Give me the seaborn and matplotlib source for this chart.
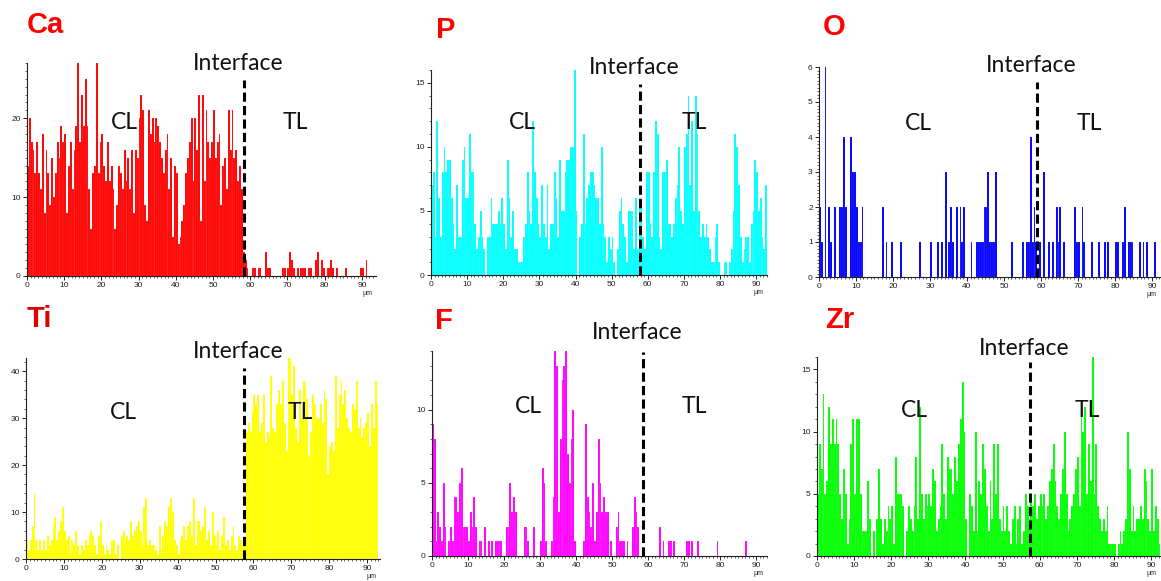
import numpy as np
import pandas as pd
import matplotlib
matplotlib.use("Agg")
import matplotlib.pyplot as plt
import matplotlib.transforms as mtransforms
from matplotlib.ticker import MultipleLocator
import seaborn as sns

# ---------------- data (counts per 0.5 µm step) ----------------
STEP_UM = 0.5

ca_counts = [
    14, 20, 17, 16, 13, 17, 13, 11, 18, 8,
    16, 13, 9, 15, 10, 13, 17, 15, 19, 17,
    18, 8, 14, 17, 11, 16, 19, 27, 17, 23,
    19, 25, 19, 11, 6, 13, 14, 27, 13, 17,
    18, 14, 12, 17, 12, 14, 11, 6, 9, 14,
    13, 11, 16, 12, 15, 11, 16, 8, 16, 15,
    20, 23, 21, 9, 7, 21, 18, 20, 17, 20,
    19, 17, 15, 13, 16, 18, 11, 15, 5, 14,
    13, 4, 5, 7, 9, 13, 15, 17, 20, 12,
    20, 16, 23, 7, 23, 12, 21, 17, 15, 17,
    21, 15, 17, 18, 9, 14, 15, 11, 21, 16,
    21, 15, 16, 12, 14, 11, 3, 2, 1, 0,
    0, 1, 1, 0, 1, 1, 0, 0, 3, 1,
    1, 0, 0, 0, 0, 0, 0, 1, 1, 0,
    1, 3, 2, 1, 0, 1, 0, 1, 1, 1,
    0, 1, 1, 0, 0, 2, 3, 0, 2, 1,
    0, 1, 1, 2, 1, 0, 1, 0, 0, 0,
    0, 1, 0, 0, 0, 0, 0, 0, 0, 1,
    1, 0, 2, 0, 0, 0,
]

p_counts = [
    7, 8, 3, 12, 6, 3, 8, 10, 8, 9,
    9, 6, 4, 2, 7, 3, 3, 9, 10, 6,
    6, 11, 8, 8, 4, 2, 3, 5, 3, 2,
    0, 3, 3, 6, 4, 4, 4, 5, 4, 6,
    4, 2, 9, 6, 3, 5, 2, 2, 1, 1,
    1, 3, 4, 8, 5, 4, 12, 8, 6, 4,
    3, 7, 4, 3, 7, 2, 4, 4, 8, 6,
    3, 9, 5, 5, 8, 9, 9, 10, 10, 16,
    5, 0, 3, 4, 11, 4, 6, 7, 8, 8,
    7, 6, 6, 4, 10, 4, 3, 1, 3, 2,
    3, 1, 0, 2, 5, 6, 4, 3, 1, 5,
    5, 5, 2, 6, 2, 6, 6, 3, 2, 8,
    8, 4, 3, 8, 12, 11, 3, 2, 8, 8,
    9, 4, 4, 3, 4, 6, 7, 10, 5, 4,
    10, 11, 14, 7, 12, 5, 14, 11, 5, 3,
    4, 3, 4, 3, 2, 1, 1, 3, 4, 1,
    0, 0, 1, 1, 0, 1, 2, 5, 11, 10,
    7, 3, 1, 2, 3, 3, 1, 4, 5, 9,
    8, 5, 6, 3, 2, 7,
]

# O is sparse: positions (µm) and counts of the non-zero steps
o_um = [0, 0.5, 1.5, 2.5, 3, 4, 5.5, 6, 6.5, 7, 8.5, 9, 9.5, 10, 10.5, 11, 11.5,
        17, 18, 19.5, 22, 27, 30, 32, 33, 34, 35, 35.5, 36, 37, 38, 38.5, 39,
        41, 42.5, 43, 43.5, 44, 44.5, 45, 45.5, 46, 46.5, 47, 47.5, 52, 55, 56,
        56.5, 57, 57.5, 58, 58.5, 59.5, 60.5, 62, 63, 64, 64.5, 65, 66, 69, 69.5,
        70, 71, 71.5, 73.5, 75.5, 77, 78, 80, 80.5, 82, 82.5, 83.5, 84, 84.5,
        86.5, 87.5, 88.5, 90.5]
o_counts = [2, 1, 6, 2, 1, 2, 2, 2, 4, 2, 4, 3, 3, 2, 1, 1, 2,
            2, 1, 1, 1, 1, 1, 1, 1, 3, 1, 2, 1, 2, 2, 1, 2,
            1, 1, 1, 1, 1, 2, 2, 3, 1, 1, 1, 3, 1, 1, 1,
            1, 4, 1, 2, 1, 1, 3, 1, 1, 2, 1, 2, 1, 2, 1,
            1, 2, 1, 1, 1, 1, 1, 1, 1, 1, 2, 1, 1, 1,
            1, 1, 1, 1]

ti_counts = [
    4, 2, 4, 7, 14, 4, 2, 4, 2, 4,
    2, 5, 3, 4, 7, 9, 4, 6, 8, 11,
    6, 4, 5, 1, 4, 3, 6, 3, 1, 3,
    2, 4, 3, 5, 6, 5, 3, 1, 5, 8,
    3, 1, 3, 2, 1, 4, 4, 1, 3, 0,
    5, 6, 4, 5, 4, 8, 5, 6, 7, 8,
    6, 3, 11, 13, 3, 4, 3, 3, 2, 1,
    7, 2, 5, 8, 7, 11, 13, 10, 4, 3,
    1, 4, 5, 7, 4, 7, 8, 5, 13, 3,
    8, 8, 6, 7, 11, 4, 6, 3, 10, 5,
    3, 6, 2, 5, 9, 3, 4, 2, 5, 7,
    3, 2, 5, 4, 3, 4, 27, 29, 27, 31,
    35, 33, 35, 27, 29, 35, 25, 27, 26, 39,
    28, 27, 33, 36, 33, 38, 29, 23, 43, 43,
    35, 41, 28, 25, 36, 30, 38, 37, 34, 22,
    27, 35, 33, 30, 30, 33, 29, 36, 34, 18,
    24, 25, 23, 39, 28, 35, 38, 33, 36, 30,
    28, 27, 33, 32, 38, 28, 30, 26, 28, 29,
    31, 24, 33, 28, 38, 33,
]

f_counts = [
    9, 8, 1, 3, 2, 1, 5, 2, 0, 1,
    2, 1, 4, 4, 3, 5, 6, 2, 2, 2,
    1, 3, 2, 4, 2, 0, 1, 1, 0, 2,
    0, 1, 0, 1, 0, 1, 1, 1, 1, 0,
    0, 2, 2, 5, 3, 4, 3, 0, 0, 0,
    0, 2, 2, 1, 0, 0, 2, 0, 0, 0,
    1, 6, 5, 1, 0, 0, 1, 4, 14, 13,
    3, 8, 12, 13, 14, 7, 5, 8, 10, 1,
    0, 0, 0, 0, 1, 9, 4, 3, 2, 5,
    1, 3, 8, 5, 3, 4, 3, 3, 0, 1,
    0, 0, 2, 3, 1, 1, 1, 0, 1, 0,
    0, 2, 4, 3, 2, 0, 0, 0, 0, 0,
    0, 0, 0, 0, 0, 0, 2, 0, 1, 0,
    0, 1, 1, 0, 1, 0, 0, 0, 0, 0,
    0, 1, 1, 0, 1, 0, 0, 1, 0, 0,
    0, 0, 0, 0, 0, 0, 0, 0, 1, 0,
    0, 0, 0, 0, 0, 0, 0, 0, 0, 0,
    0, 0, 0, 0, 1, 0, 0, 0, 0, 0,
    0, 0, 0, 0, 0, 0,
]

zr_counts = [
    5, 9, 7, 13, 5, 6, 12, 9, 11, 9,
    11, 9, 5, 3, 7, 5, 1, 3, 9, 11,
    5, 11, 11, 5, 2, 2, 2, 6, 3, 0,
    2, 0, 3, 7, 3, 1, 3, 2, 4, 3,
    4, 1, 8, 5, 5, 5, 4, 0, 2, 4,
    3, 2, 4, 8, 3, 12, 5, 3, 5, 4,
    5, 4, 7, 6, 2, 3, 4, 9, 5, 3,
    8, 7, 7, 5, 8, 6, 9, 11, 14, 10,
    3, 0, 5, 4, 2, 10, 2, 6, 5, 9,
    7, 4, 2, 6, 3, 9, 5, 9, 3, 2,
    4, 2, 4, 2, 1, 3, 4, 1, 3, 4,
    1, 2, 5, 4, 3, 5, 4, 5, 3, 4,
    5, 4, 5, 3, 4, 6, 7, 9, 6, 4,
    3, 5, 7, 10, 5, 2, 3, 4, 5, 7,
    8, 4, 12, 10, 12, 5, 9, 6, 16, 5,
    9, 4, 3, 2, 3, 2, 4, 1, 1, 1,
    1, 0, 1, 2, 1, 2, 3, 10, 7, 2,
    4, 2, 3, 3, 4, 3, 7, 6, 3, 2,
    7, 2, 4, 3, 1, 3,
]

element_names = ["Ca", "P", "O", "Ti", "F", "Zr"]
element_colors = ["#ff0000", "#00ffff", "#0000ff", "#ffff00", "#ff00ff", "#00ff00"]
interface_um = [58.3, 57.9, 58.9, 57.5, 58.6, 57.5]
x_tick_labels = ["0", "10", "20", "30", "40", "50", "60", "70", "80", "90"]

# ---------------- figure ----------------
sns.set_theme(style="ticks")
plt.rcParams["font.family"] = ["Liberation Sans", "DejaVu Sans"]

W, H = 1161, 581
fig = plt.figure(figsize=(W / 100, H / 100), dpi=100)

def px_axes(left, right, y0, ytop):
    return fig.add_axes([left / W, 1 - y0 / H, (right - left) / W, (y0 - ytop) / H])

layout = [
    dict(box=(27, 376, 276, 63), xmax=93.8, ymax=27.0, ymaj=10, ymin=1, title=(27, 25), ity=1.0, ltop=0.92, clx=26.3, tlx=72.0, ly=0.723),
    dict(box=(431, 767, 275, 70), xmax=93.0, ymax=16.0, ymaj=5, ymin=1, title=(436, 30), ity=1.01, ltop=0.93, clx=25.2, tlx=72.9, ly=0.746),
    dict(box=(819, 1160, 277, 67), xmax=92.2, ymax=6.0, ymaj=1, ymin=0.1, title=(823, 27), ity=1.005, ltop=0.93, clx=27.0, tlx=73.0, ly=0.73),
    dict(box=(26, 380, 559, 358), xmax=93.4, ymax=42.8, ymaj=10, ymin=2, title=(27, 319), ity=1.03, ltop=0.95, clx=25.6, tlx=72.3, ly=0.73),
    dict(box=(432, 767, 556, 351), xmax=93.0, ymax=14.0, ymaj=5, ymin=1, title=(435, 321), ity=1.088, ltop=0.995, clx=26.7, tlx=72.8, ly=0.727),
    dict(box=(817, 1160, 556, 357), xmax=92.4, ymax=16.0, ymaj=5, ymin=1, title=(825, 320), ity=1.045, ltop=0.975, clx=26.3, tlx=72.8, ly=0.73),
]

series = [
    (np.arange(len(ca_counts)) * STEP_UM, ca_counts),
    (np.arange(len(p_counts)) * STEP_UM, p_counts),
    (np.array(o_um, float), o_counts),
    (np.arange(len(ti_counts)) * STEP_UM, ti_counts),
    (np.arange(len(f_counts)) * STEP_UM, f_counts),
    (np.arange(len(zr_counts)) * STEP_UM, zr_counts),
]

label_font = ["Lato", "DejaVu Sans"]

for name, color, iface, lay, (xs, ys) in zip(element_names, element_colors, interface_um, layout, series):
    left, right, y0, ytop = lay["box"]
    ax = px_axes(left, right, y0, ytop)
    df = pd.DataFrame({"um": np.asarray(xs, float) + STEP_UM / 2, "counts": np.asarray(ys, float)})
    sns.histplot(data=df, x="um", weights="counts", binwidth=STEP_UM, binrange=(0, 94.0),
                 element="bars", fill=True, color=color, alpha=1,
                 linewidth=0.06, edgecolor="white", ax=ax)
    ax.set_xlim(0, lay["xmax"])
    ax.set_ylim(0, lay["ymax"])
    ax.set_xlabel("")
    ax.set_ylabel("")
    ax.set_facecolor("white")
    sns.despine(ax=ax)
    for s in ("left", "bottom"):
        ax.spines[s].set_linewidth(0.8)
        ax.spines[s].set_color("#222222")
    ax.xaxis.set_minor_locator(MultipleLocator(1))
    ax.set_xticks(np.arange(len(x_tick_labels)) * 10)
    ax.set_xticklabels(x_tick_labels)
    ax.yaxis.set_major_locator(MultipleLocator(lay["ymaj"]))
    ax.yaxis.set_minor_locator(MultipleLocator(lay["ymin"]))
    ax.tick_params(which="major", direction="out", length=3, width=0.7, labelsize=6, pad=1.5, colors="#222222")
    ax.tick_params(which="minor", direction="out", length=1.6, width=0.5, colors="#222222")
    ax.annotate("µm", xy=(1, 0), xycoords="axes fraction", xytext=(-6, -12.5),
                textcoords="offset points", ha="center", va="center", fontsize=5)

    trans = mtransforms.blended_transform_factory(ax.transData, ax.transAxes)
    ax.axvline(iface, ymin=0, ymax=lay["ltop"], color="black", lw=2.2,
               dashes=(3, 1.4), clip_on=False, zorder=5)
    ax.text(iface - 1.6, lay["ity"], "Interface", transform=trans, ha="center", va="center",
            fontsize=16.5, family=label_font, color="#111111", clip_on=False, zorder=6)
    ax.text(lay["clx"], lay["ly"], "CL", transform=trans, ha="center", va="center",
            fontsize=16.5, family=label_font, color="#111111", zorder=6)
    ax.text(lay["tlx"], lay["ly"], "TL", transform=trans, ha="center", va="center",
            fontsize=16.5, family=label_font, color="#111111", zorder=6)

    tx, ty = lay["title"]
    fig.text(tx / W, 1 - ty / H, name, ha="left", va="center", fontsize=21,
             fontweight="bold", color="#ff0000" if name != "Ti" else "#e00000")

fig.savefig("out.png", dpi=100, facecolor="white")
